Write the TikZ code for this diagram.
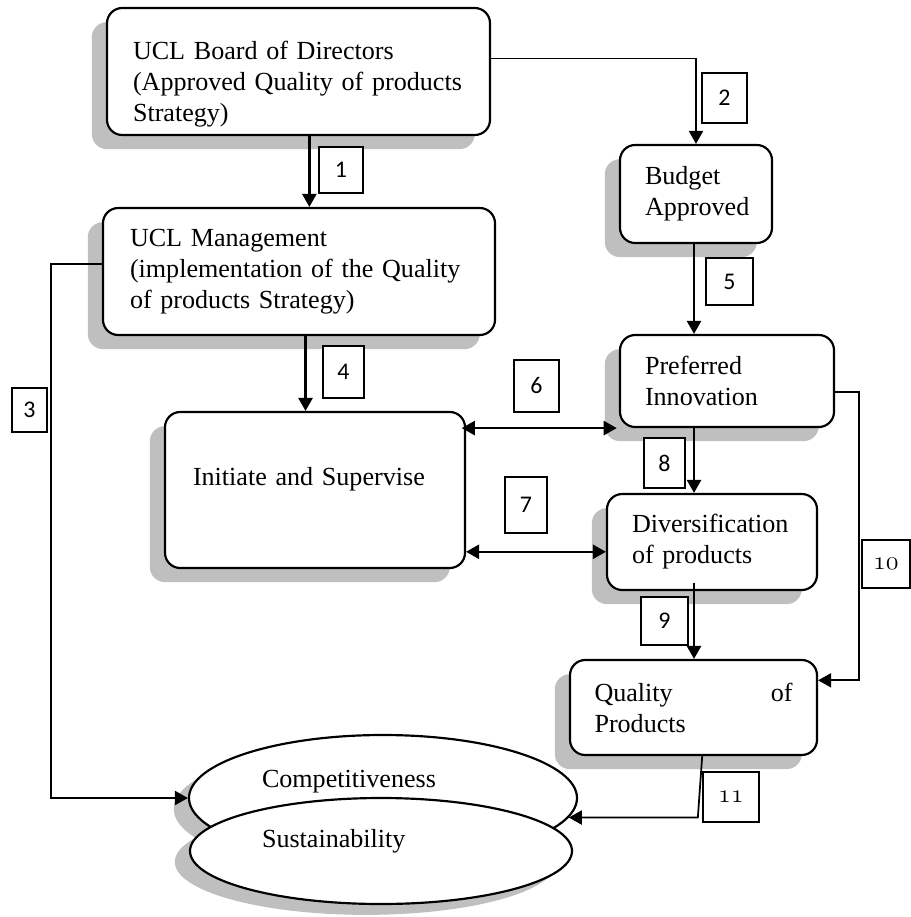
\documentclass[tikz,border=0pt]{standalone}
\usepackage{fontspec}
\setmainfont{Liberation Serif}
\newfontfamily\numfont{Carlito}
\newcommand{\oldnumfont}{\usefont{OML}{cmm}{m}{it}}
\usetikzlibrary{
    shapes.geometric,
    arrows.meta,
    shadows
}
\newcommand{\pxu}{0.46pt}

\tikzset{
    procbox/.style={draw, line width=1pt, rounded corners=7pt, fill=white, inner sep=0pt, align=left,
        font=\fontsize{12}{14.3}\selectfont,
        drop shadow={shadow xshift=-7pt, shadow yshift=-6.5pt, fill=black!25, opacity=1}},
    goalell/.style={ellipse, draw, line width=1pt, fill=white, inner sep=0pt, align=left,
        font=\fontsize{12}{14.3}\selectfont,
        drop shadow={shadow xshift=-7pt, shadow yshift=-5pt, fill=black!25, opacity=1}},
    numbox/.style={draw, line width=0.7pt, fill=white, inner sep=0pt,
        font={\numfont\fontsize{11}{13}\selectfont}},
    flow/.style={-{Triangle[length=6pt, width=6.5pt]}, line width=1.1pt},
    thinflow/.style={-{Triangle[length=6pt, width=6.5pt]}, line width=0.8pt},
    dflow/.style={{Triangle[length=6pt, width=6.5pt]}-{Triangle[length=6pt, width=6.5pt]}, line width=1pt}
}

\begin{document}
\begin{tikzpicture}[x=\pxu, y=-\pxu]
    \useasboundingbox (0,0) rectangle (911,917);

    % Boxes
    \node[procbox, minimum width=383*\pxu, minimum height=127*\pxu, text width=331*\pxu, text height=20pt]
        (board) at (298.5,71.5) {UCL Board of Directors\\(Approved~Quality~of~products\\Strategy)};
    \node[procbox, minimum width=152*\pxu, minimum height=98*\pxu, text width=102*\pxu]
        (budget) at (696,194) {Budget\\Approved};
    \node[procbox, minimum width=392*\pxu, minimum height=127*\pxu, text width=338*\pxu]
        (mgmt) at (299,271.5) {UCL Management\\(implementation~of~the~Quality\\of products Strategy)};
    \node[procbox, minimum width=300*\pxu, minimum height=156*\pxu, text width=244*\pxu, text depth=12.8pt]
        (initiate) at (315,490) {Initiate~and~Supervise};
    \node[procbox, minimum width=214*\pxu, minimum height=92*\pxu, text width=164*\pxu]
        (pref) at (727,381) {Preferred\\Innovation};
    \node[procbox, minimum width=210*\pxu, minimum height=96*\pxu, text width=160*\pxu]
        (div) at (712,542) {Diversification\\of products};
    \node[procbox, minimum width=247*\pxu, minimum height=95*\pxu, text width=198*\pxu]
        (quality) at (693.5,707.5) {Quality\hfill of\\Products};

    % Goals
    \node[goalell, minimum width=388*\pxu, minimum height=126*\pxu, text width=242*\pxu, text depth=17.4pt]
        (comp) at (383,798) {Competitiveness};
    \node[goalell, minimum width=382*\pxu, minimum height=106*\pxu, text width=238*\pxu, text depth=11.9pt]
        (sust) at (381,851) {Sustainability};

    % Connectors
    \coordinate (rcol) at (694,0);
    \coordinate (lft) at (51,0);
    \coordinate (d7) at ([yshift=-4.5pt]div.west);
    \draw[flow] ([xshift=5pt]board.south) -- ([xshift=5pt]board.south |- mgmt.north);
    \draw[thinflow] ([yshift=6pt]board.east) -| (budget.north);
    \draw[thinflow] ([yshift=3.5pt]mgmt.west) -| (lft |- comp.west) -- (comp.west);
    \draw[flow] ([xshift=3pt]mgmt.south) -- ([xshift=3pt]mgmt.south |- initiate.north);
    \draw[flow] (rcol |- budget.south) -- (rcol |- pref.north);
    \draw[dflow] ([xshift=-2pt]initiate.east |- pref.south) -- ([xshift=-1pt]pref.south west);
    \draw[dflow] (initiate.east |- d7) -- (d7);
    \draw[flow] (rcol |- pref.south) -- (rcol |- div.north);
    \draw[flow] ([yshift=3.5pt]rcol |- div.south) -- (rcol |- quality.north);
    \draw[thinflow] ([yshift=-5pt]pref.east) -- ++(24,0) |- ([yshift=12.5pt]quality.east);
    \draw[thinflow] ([xshift=4pt]quality.south) -- ([xshift=2pt]quality.south |- comp.-6) -- (comp.-6);

    % Step numbers
    \node[numbox, minimum width=44*\pxu, minimum height=46*\pxu] (n1) at (341,170) {1};
    \node[numbox, minimum width=45*\pxu, minimum height=50*\pxu] (n2) at (724.5,98) {2};
    \node[numbox, minimum width=35*\pxu, minimum height=44*\pxu] (n3) at (29.5,410) {3};
    \node[numbox, minimum width=41*\pxu, minimum height=52*\pxu] (n4) at (343.5,372) {4};
    \node[numbox, minimum width=47*\pxu, minimum height=47*\pxu] (n5) at (729.5,281.5) {5};
    \node[numbox, minimum width=45*\pxu, minimum height=52*\pxu] (n6) at (536.5,386) {6};
    \node[numbox, minimum width=42*\pxu, minimum height=56*\pxu] (n7) at (526,505) {7};
    \node[numbox, minimum width=41*\pxu, minimum height=50*\pxu] (n8) at (664.5,463) {8};
    \node[numbox, minimum width=47*\pxu, minimum height=48*\pxu] (n9) at (664.5,621) {9};
    \node[numbox, minimum width=48*\pxu, minimum height=48*\pxu, font={\oldnumfont\fontsize{12}{14}\selectfont}]
        (n10) at (886,564) {10};
    \node[numbox, minimum width=56*\pxu, minimum height=50*\pxu, font={\oldnumfont\fontsize{12}{14}\selectfont}]
        (n11) at (731,797) {11};
\end{tikzpicture}
\end{document}
